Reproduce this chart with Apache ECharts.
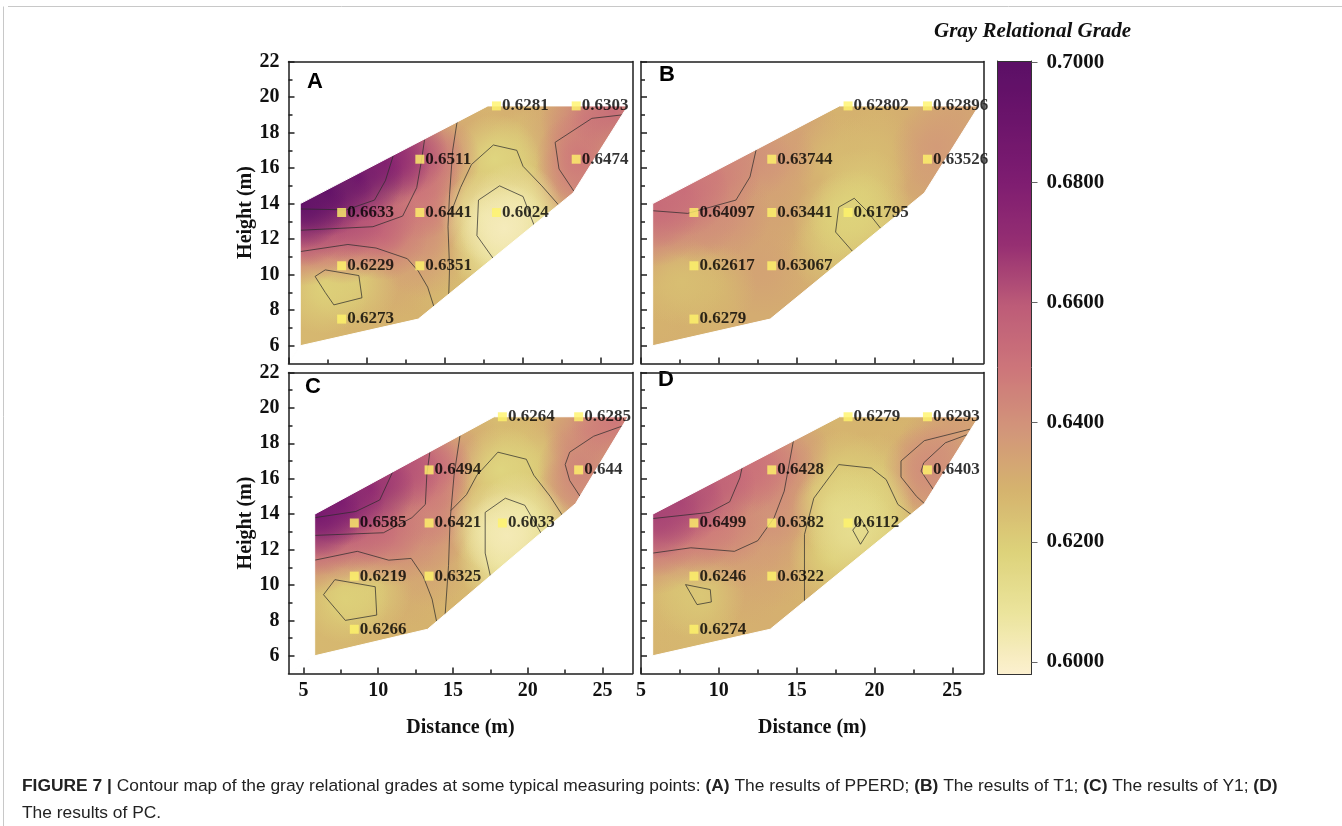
<!DOCTYPE html>
<html>
<head>
<meta charset="utf-8">
<script src="https://cdn.jsdelivr.net/npm/echarts@6/dist/echarts.min.js"></script>
<style>
html, body { margin: 0; padding: 0; background: #fff; }
#chart { width: 1342px; height: 826px; }
</style>
</head>
<body>
<div id="chart"></div>
<script>
// measuring points, same layout in the four panels
var pointX = [18.3, 23.4, 13.4, 23.4, 8.4, 13.4, 18.3, 8.4, 13.4, 8.4];
var pointY = [19.5, 19.5, 16.5, 16.5, 13.5, 13.5, 13.5, 10.5, 10.5, 7.5];
var gradeA = [0.6281, 0.6303, 0.6511, 0.6474, 0.6633, 0.6441, 0.6024, 0.6229, 0.6351, 0.6273];
var gradeB = [0.62802, 0.62896, 0.63744, 0.63526, 0.64097, 0.63441, 0.61795, 0.62617, 0.63067, 0.6279];
var gradeC = [0.6264, 0.6285, 0.6494, 0.644, 0.6585, 0.6421, 0.6033, 0.6219, 0.6325, 0.6266];
var gradeD = [0.6279, 0.6293, 0.6428, 0.6403, 0.6499, 0.6382, 0.6112, 0.6246, 0.6322, 0.6274];

// outline of the measured area
var hullX = [5.75, 17.75, 26.7, 23.2, 13.3, 5.75];
var hullY = [14, 19.5, 19.5, 14.6, 7.5, 6];

// colour field: [x, y, grade]
var baseGrade = [0.628, 0.631, 0.628, 0.629];
var fieldA = [
  [5.9,14.0,0.697],[7.5,14.7,0.694],[9.5,15.5,0.686],[11.2,16.3,0.675],[12.3,16.9,0.664],
  [6.0,13.0,0.664],[8.4,13.3,0.663],[10.4,13.4,0.659],
  [6.0,11.9,0.649],[8.5,12.0,0.648],[11.0,12.2,0.650],
  [13.4,16.5,0.652],[13.4,14.5,0.648],[13.4,13.2,0.643],[14.4,16.5,0.642],
  [13.6,11.2,0.636],[11.5,10.0,0.632],[13.2,8.0,0.629],
  [6.0,10.6,0.630],[7.3,9.2,0.619],[9.2,9.5,0.621],[6.0,7.0,0.627],[8.5,7.3,0.628],[10.5,8.3,0.629],
  [15.5,17.8,0.632],[16.0,14.5,0.626],[15.8,11.5,0.625],[15.4,9.5,0.627],
  [17.8,19.3,0.628],[19.8,19.3,0.630],[18.2,16.5,0.617],[20.3,16.8,0.622],
  [17.6,13.3,0.607],[18.8,12.6,0.602],[19.6,13.8,0.607],[18.3,11.2,0.609],[20.6,13.0,0.615],
  [21.6,15.7,0.626],[22.2,14.4,0.628],[22.5,17.8,0.634],
  [24.0,18.8,0.645],[25.8,19.2,0.652],[23.7,16.6,0.648],[23.4,15.1,0.641]
];
var fieldB = [
  [6.0,14.0,0.653],[7.8,14.7,0.651],[9.8,15.6,0.646],[11.8,16.6,0.640],
  [6.0,13.0,0.644],[8.4,13.3,0.642],[10.5,13.5,0.640],
  [6.0,11.8,0.636],[9.0,11.8,0.635],[11.8,11.5,0.634],[12.8,10.2,0.634],
  [6.2,9.8,0.628],[7.6,9.6,0.625],[9.5,9.3,0.627],[6.0,7.2,0.629],[9.0,7.4,0.629],[11.5,8.3,0.631],
  [13.4,16.4,0.637],[13.4,13.5,0.634],[15.0,17.8,0.634],[15.2,14.0,0.631],[15.2,11.0,0.630],[14.8,9.0,0.631],
  [17.6,19.3,0.629],[20.0,19.3,0.629],[17.6,16.5,0.626],[20.0,16.8,0.626],
  [17.6,13.0,0.620],[18.6,13.4,0.618],[19.3,14.6,0.621],[17.5,11.3,0.623],[20.2,12.8,0.623],
  [21.8,15.2,0.628],[22.4,17.8,0.631],[24.0,17.2,0.637],[25.6,19.1,0.634],[23.3,15.3,0.634]
];
var fieldC = [
  [5.9,14.0,0.684],[7.5,14.7,0.679],[9.5,15.5,0.670],[11.2,16.3,0.662],[12.3,16.9,0.656],
  [6.0,13.0,0.658],[8.4,13.3,0.656],[10.4,13.5,0.652],
  [6.0,12.0,0.644],[8.6,12.3,0.643],[11.0,12.4,0.643],
  [13.4,16.5,0.649],[13.4,14.6,0.645],[13.4,13.2,0.641],[14.4,16.8,0.639],
  [13.5,11.2,0.634],[11.5,10.0,0.631],[13.0,8.0,0.629],
  [6.0,10.6,0.629],[7.8,9.2,0.619],[9.3,9.6,0.621],[6.0,7.0,0.627],[8.5,7.3,0.627],[10.5,8.3,0.629],
  [15.4,17.9,0.632],[15.8,14.5,0.627],[15.6,11.5,0.626],[15.0,9.3,0.628],
  [17.8,19.3,0.626],[19.8,19.3,0.628],[18.2,16.5,0.617],[20.2,16.8,0.621],
  [17.6,13.3,0.608],[18.6,12.8,0.603],[19.5,13.9,0.608],[18.2,11.3,0.609],[20.4,13.1,0.614],
  [21.6,15.7,0.626],[22.2,14.4,0.627],[22.5,17.8,0.633],
  [24.0,18.7,0.641],[25.8,19.2,0.648],[23.6,16.6,0.644],[23.4,15.1,0.638]
];
var fieldD = [
  [5.9,14.0,0.665],[7.5,14.7,0.664],[9.5,15.5,0.658],[11.2,16.3,0.651],[12.3,16.9,0.648],
  [6.0,13.0,0.651],[8.4,13.3,0.648],[10.4,13.5,0.645],
  [6.0,12.0,0.639],[8.6,12.3,0.638],[11.3,12.3,0.637],
  [13.4,16.5,0.643],[13.4,14.6,0.640],[13.4,13.2,0.637],[14.3,17.4,0.638],
  [13.5,11.2,0.633],[11.5,10.2,0.632],[13.0,8.0,0.630],
  [6.0,10.6,0.630],[8.8,9.4,0.622],[7.2,9.6,0.625],[6.0,7.0,0.628],[8.5,7.3,0.627],[10.5,8.3,0.629],
  [15.4,17.5,0.631],[15.5,14.2,0.629],[15.2,11.5,0.628],[14.8,9.2,0.629],
  [17.8,19.3,0.628],[19.8,19.3,0.629],[18.0,16.2,0.621],[20.0,16.0,0.622],
  [17.6,14.3,0.615],[18.6,13.0,0.612],[19.6,14.4,0.616],[17.4,11.6,0.619],[20.3,13.1,0.620],
  [21.5,15.3,0.625],[22.2,14.3,0.627],[21.5,18.0,0.628],[22.3,16.6,0.631],
  [24.3,17.6,0.638],[25.8,19.1,0.634],[23.4,16.5,0.641],[23.4,15.2,0.635]
];

// contour lines
var contourA = [
  [[5.75,13.7],[8.7,13.65],[10.5,14.2],[11.2,15.3],[11.7,16.7]],
  [[5.75,12.5],[10.4,12.7],[12.3,13.3],[13.2,14.9],[13.5,16.4],[13.7,17.6]],
  [[5.75,11.3],[8.8,11.7],[10.6,11.5],[12.6,10.9],[13.3,10.2],[13.9,9.3],[14.3,8.2]],
  [[15.8,18.7],[15.5,17.0],[15.3,14.5],[15.2,12.7],[15.3,10.4],[15.25,8.9]],
  [[18.1,10.9],[17.05,12.2],[17.15,14.2],[18.5,15.0],[20.0,14.4],[20.7,12.8]],
  [[15.35,13.4],[16.0,14.9],[16.7,16.2],[18.1,17.3],[19.6,17.0],[20.0,16.1],[21.2,15.0],[22.3,13.9]],
  [[26.4,19.0],[24.4,18.8],[22.05,17.45],[22.3,15.95],[23.25,14.7]],
  [[6.7,9.9],[7.35,10.27],[9.5,9.95],[9.7,8.7],[7.9,8.3],[7.35,9.0],[6.7,9.9]]
];
var contourB = [
  [[5.75,13.6],[8.0,13.45],[11.1,14.2],[12.0,15.5],[12.4,17.05]],
  [[18.6,11.3],[17.5,12.4],[17.7,13.8],[18.7,14.3],[19.5,13.6],[20.4,12.6]]
];
var contourC = [
  [[5.75,13.8],[8.5,14.15],[10.1,14.8],[11.0,16.45]],
  [[5.75,12.8],[10.35,12.95],[12.25,13.8],[13.15,14.55],[13.25,16.25],[13.45,17.5]],
  [[5.75,11.4],[8.6,11.9],[10.7,11.4],[12.2,11.5],[13.0,10.5],[13.6,9.2],[13.9,7.95]],
  [[15.47,18.45],[15.07,16.2],[14.8,13.6],[14.7,11.1],[14.47,8.3]],
  [[17.5,10.5],[17.15,11.8],[17.15,14.1],[18.5,14.9],[19.8,14.5],[20.9,12.9]],
  [[14.85,14.2],[15.9,15.1],[16.6,16.2],[18.0,17.5],[19.9,17.1],[20.4,16.2],[21.5,15.0],[22.3,13.95]],
  [[26.33,18.98],[24.4,18.4],[22.8,17.5],[22.5,16.8],[22.8,15.9],[23.5,15.0]],
  [[6.34,9.45],[7.1,10.3],[9.8,9.9],[9.9,8.3],[7.8,8.0],[6.34,9.45]]
];
var contourD = [
  [[5.75,13.75],[9.4,14.1],[10.7,14.7],[11.35,16.05],[11.5,16.65]],
  [[5.75,11.8],[8.2,12.1],[11.0,11.9],[12.5,12.5],[13.55,13.8],[14.2,15.3],[14.8,18.2]],
  [[15.5,9.1],[15.5,12.85],[16.1,14.9],[17.7,16.8],[19.8,16.6],[20.75,15.95],[21.5,14.55],[22.4,13.95]],
  [[18.6,13.1],[19.1,12.3],[19.6,13.0],[19.15,13.7],[18.6,13.1]],
  [[26.14,18.8],[23.2,18.15],[21.7,17.0],[21.7,16.1],[22.7,15.0],[23.2,14.6]],
  [[25.99,18.5],[24.55,18.03],[23.16,16.9],[22.99,16.43],[23.77,15.4]],
  [[7.86,10.02],[9.45,9.74],[9.52,9.04],[8.6,8.89],[7.86,10.02]]
];

// axes
var xMinPanel = [5, 5, 4, 5];
var xMax = 27, yMin = 5, yMax = 22;
var xMajor = [5, 10, 15, 20, 25];
var xMinor = [7.5, 12.5, 17.5, 22.5];
var yMajor = [6, 8, 10, 12, 14, 16, 18, 20, 22];
var yMinor = [7, 9, 11, 13, 15, 17, 19, 21];
var panelLetters = ['A', 'B', 'C', 'D'];

// colour bar
var gradeMin = 0.598, gradeMax = 0.7002;
var barTicks = [0.60, 0.62, 0.64, 0.66, 0.68, 0.70];
var barColors = ['#fcf0cf', '#ebe49c', '#ddd27a', '#d5b36e', '#d2957a', '#cd757a',
                 '#bd5c78', '#962f72', '#7f1d71', '#6c146b', '#5b0f66'];

var grades = [gradeA, gradeB, gradeC, gradeD];
var fields = [fieldA, fieldB, fieldC, fieldD];
var contours = [contourA, contourB, contourC, contourD];

var serif = "'Liberation Serif', 'Times New Roman', serif";
var sans = "'Liberation Sans', Arial, sans-serif";
var boldSerif = { fontFamily: serif, fontWeight: 'bold', fontSize: 20, color: '#111' };
var frameLine = { color: '#1e1e1e', width: 1.5 };
var blobRadius = 2.7;

function withAlpha(col, a) {
  var m;
  if (col.charAt(0) === '#') {
    var h = col.length === 4 ? col.replace(/#(.)(.)(.)/, '#$1$1$2$2$3$3') : col;
    return 'rgba(' + parseInt(h.substr(1, 2), 16) + ',' + parseInt(h.substr(3, 2), 16) + ',' +
      parseInt(h.substr(5, 2), 16) + ',' + a + ')';
  }
  m = col.match(/rgba?\(([^)]+)\)/);
  var c = m[1].split(',');
  return 'rgba(' + c[0] + ',' + c[1] + ',' + c[2] + ',' + a + ')';
}

// paint the strongest departures from the panel's base grade last
function paintOrder(field, base) {
  return field.slice().sort(function (a, b) {
    return Math.abs(a[2] - base) - Math.abs(b[2] - base);
  });
}

function hullItem(params, api) {
  var pts = hullX.map(function (x, i) { return api.coord([x, hullY[i]]); });
  return { type: 'polygon', shape: { points: pts }, style: { fill: api.visual('color') } };
}

function blobItem(params, api) {
  var c = api.coord([api.value(0), api.value(1)]);
  var s = api.size([blobRadius, blobRadius]);
  var r = (s[0] + s[1]) / 2;
  var col = api.visual('color');
  return {
    type: 'circle',
    shape: { cx: c[0], cy: c[1], r: r },
    style: {
      fill: {
        type: 'radial', x: 0.5, y: 0.5, r: 0.5,
        colorStops: [
          { offset: 0, color: withAlpha(col, 1) },
          { offset: 0.35, color: withAlpha(col, 0.75) },
          { offset: 1, color: withAlpha(col, 0) }
        ]
      }
    }
  };
}

function maskItem(xmin) {
  return function (params, api) {
    var P = function (x, y) { return api.coord([x, y]); };
    var upper = [P(xmin, yMin), P(xmin, yMax), P(xMax, yMax), P(xMax, hullY[2]), P(hullX[2], hullY[2]),
                 P(hullX[1], hullY[1]), P(hullX[0], hullY[0]), P(hullX[5], hullY[5])];
    var lower = [P(xmin, yMin), P(hullX[5], hullY[5]), P(hullX[4], hullY[4]), P(hullX[3], hullY[3]),
                 P(hullX[2], hullY[2]), P(xMax, hullY[2]), P(xMax, yMin)];
    var st = { fill: '#fff', stroke: '#fff', lineWidth: 1 };
    return {
      type: 'group',
      children: [
        { type: 'polygon', shape: { points: upper }, style: st },
        { type: 'polygon', shape: { points: lower }, style: st }
      ]
    };
  };
}

var grids = [
  { left: 288.5, top: 61.5, width: 344, height: 302 },
  { left: 641, top: 61.5, width: 342.5, height: 302 },
  { left: 288.5, top: 372.5, width: 344, height: 301 },
  { left: 641, top: 372.5, width: 342.5, height: 301 },
  { left: 997.5, top: 61, width: 34, height: 613 }
];
grids.forEach(function (g) { g.outerBoundsMode = 'none'; g.containLabel = false; });

var xAxes = [], yAxes = [], series = [], colourSeries = [], titles = [];

for (var p = 0; p < 4; p++) {
  var showX = p >= 2, showY = p % 2 === 0;
  var xmin = xMinPanel[p];
  xAxes.push({
    gridIndex: p, type: 'value', min: xmin, max: xMax, position: 'bottom', z: 10,
    axisLine: { show: true, onZero: false, lineStyle: frameLine },
    axisTick: { show: true, inside: true, length: 6, customValues: xMajor, lineStyle: frameLine },
    axisLabel: Object.assign({ show: showX, customValues: xMajor, margin: 7 }, boldSerif),
    splitLine: { show: false },
    name: showX ? 'Distance (m)' : '', nameLocation: 'middle', nameGap: 44, nameTextStyle: boldSerif
  });
  xAxes.push({
    gridIndex: p, type: 'value', min: xmin, max: xMax, position: 'bottom', z: 10,
    axisLine: { show: false },
    axisTick: { show: true, inside: true, length: 4, customValues: xMinor, lineStyle: frameLine },
    axisLabel: { show: false }, splitLine: { show: false }
  });
  xAxes.push({
    gridIndex: p, type: 'value', min: xmin, max: xMax, position: 'top', z: 10,
    axisLine: { show: true, onZero: false, lineStyle: frameLine },
    axisTick: { show: false }, axisLabel: { show: false }, splitLine: { show: false }
  });
  yAxes.push({
    gridIndex: p, type: 'value', min: yMin, max: yMax, position: 'left', z: 10,
    axisLine: { show: true, onZero: false, lineStyle: frameLine },
    axisTick: { show: true, inside: true, length: 6, customValues: yMajor, lineStyle: frameLine },
    axisLabel: Object.assign({ show: showY, customValues: yMajor, margin: 9 }, boldSerif),
    splitLine: { show: false },
    name: showY ? 'Height (m)' : '', nameLocation: 'middle', nameRotate: 90, nameGap: 30,
    nameTextStyle: boldSerif
  });
  yAxes.push({
    gridIndex: p, type: 'value', min: yMin, max: yMax, position: 'left', z: 10,
    axisLine: { show: false },
    axisTick: { show: true, inside: true, length: 4, customValues: yMinor, lineStyle: frameLine },
    axisLabel: { show: false }, splitLine: { show: false }
  });
  yAxes.push({
    gridIndex: p, type: 'value', min: yMin, max: yMax, position: 'right', z: 10,
    axisLine: { show: true, onZero: false, lineStyle: frameLine },
    axisTick: { show: false }, axisLabel: { show: false }, splitLine: { show: false }
  });

  var ax = { xAxisIndex: 3 * p, yAxisIndex: 3 * p };
  colourSeries.push(series.length);
  series.push(Object.assign({
    type: 'custom', z: 1, silent: true, clip: true, renderItem: hullItem,
    encode: { x: 0, y: 1 }, data: [[15, 12, baseGrade[p]]]
  }, ax));
  colourSeries.push(series.length);
  series.push(Object.assign({
    type: 'custom', z: 2, silent: true, clip: true, renderItem: blobItem,
    encode: { x: 0, y: 1 }, data: paintOrder(fields[p], baseGrade[p])
  }, ax));
  series.push(Object.assign({
    type: 'lines', coordinateSystem: 'cartesian2d', polyline: true, z: 3, silent: true,
    lineStyle: { color: '#2b2b2b', width: 0.8, opacity: 0.9 },
    data: contours[p].map(function (c) { return { coords: c }; })
  }, ax));
  series.push(Object.assign({
    type: 'custom', z: 4, silent: true, clip: false, renderItem: maskItem(xmin),
    encode: { x: 0, y: 1 }, data: [[xmin, yMin]]
  }, ax));
  series.push(Object.assign({
    type: 'scatter', z: 5, silent: true, symbol: 'rect', symbolSize: 9,
    itemStyle: { color: '#fff46a' },
    label: {
      show: true, position: 'right', distance: 1,
      fontFamily: serif, fontWeight: 'bold', fontSize: 17, color: '#000',
      formatter: function (d) { return String(d.value[2]); }
    },
    data: pointX.map(function (x, i) { return [x, pointY[i], grades[p][i]]; })
  }, ax));
}

// colour bar frame and ticks
xAxes.push({
  gridIndex: 4, type: 'value', min: 0, max: 1, position: 'bottom', z: 10,
  axisLine: { show: true, onZero: false, lineStyle: { color: '#333', width: 1 } },
  axisTick: { show: false }, axisLabel: { show: false }, splitLine: { show: false }
});
xAxes.push({
  gridIndex: 4, type: 'value', min: 0, max: 1, position: 'top', z: 10,
  axisLine: { show: true, onZero: false, lineStyle: { color: '#333', width: 1 } },
  axisTick: { show: false }, axisLabel: { show: false }, splitLine: { show: false }
});
yAxes.push({
  gridIndex: 4, type: 'value', min: gradeMin, max: gradeMax, position: 'right', z: 10,
  axisLine: { show: true, onZero: false, lineStyle: { color: '#333', width: 1 } },
  axisTick: { show: true, inside: false, length: 6, customValues: barTicks, lineStyle: { color: '#666', width: 1 } },
  axisLabel: Object.assign({
    customValues: barTicks, margin: 15,
    formatter: function (v) { return v.toFixed(4); }
  }, boldSerif, { fontSize: 21 }),
  splitLine: { show: false }
});
yAxes.push({
  gridIndex: 4, type: 'value', min: gradeMin, max: gradeMax, position: 'left', z: 10,
  axisLine: { show: true, onZero: false, lineStyle: { color: '#333', width: 1 } },
  axisTick: { show: false }, axisLabel: { show: false }, splitLine: { show: false }
});

var letterPos = [[307, 71], [659, 64], [305, 376], [658, 369]];
panelLetters.forEach(function (t, i) {
  titles.push({
    text: t, left: letterPos[i][0], top: letterPos[i][1], padding: 0,
    textStyle: { fontFamily: sans, fontWeight: 'bold', fontSize: 22, color: '#000' }
  });
});
titles.push({
  text: 'Gray Relational Grade', left: 934, top: 21, padding: 0,
  textStyle: { fontFamily: serif, fontWeight: 'bold', fontStyle: 'italic', fontSize: 21, color: '#111' }
});
titles.push({
  left: 22, top: 773, padding: 0,
  text: '{b|FIGURE 7 |} Contour map of the gray relational grades at some typical measuring points: ' +
    '{b|(A)} The results of PPERD; {b|(B)} The results of T1; {b|(C)} The results of Y1; {b|(D)}\n' +
    'The results of PC.',
  textStyle: {
    fontFamily: sans, fontWeight: 'normal', fontSize: 17.4, color: '#222', lineHeight: 27,
    rich: { b: { fontFamily: sans, fontWeight: 'bold', fontSize: 17.4, color: '#222', lineHeight: 27 } }
  }
});

var chart = echarts.init(document.getElementById('chart'), null, { renderer: 'canvas' });
chart.setOption({
  backgroundColor: '#fff',
  animation: false,
  title: titles,
  grid: grids,
  xAxis: xAxes,
  yAxis: yAxes,
  visualMap: {
    type: 'continuous', min: gradeMin, max: gradeMax, dimension: 2, seriesIndex: colourSeries,
    left: 997.5, top: 61, itemWidth: 34, itemHeight: 613, padding: 0,
    calculable: false, realtime: false, hoverLink: false,
    inRange: { color: barColors }
  },
  graphic: [
    { type: 'line', shape: { x1: 8, y1: 6.5, x2: 1342, y2: 6.5 }, style: { stroke: '#c8c8c8', lineWidth: 1 } },
    { type: 'line', shape: { x1: 3.5, y1: 6.5, x2: 3.5, y2: 826 }, style: { stroke: '#c8c8c8', lineWidth: 1 } }
  ],
  series: series
});
</script>
</body>
</html>
